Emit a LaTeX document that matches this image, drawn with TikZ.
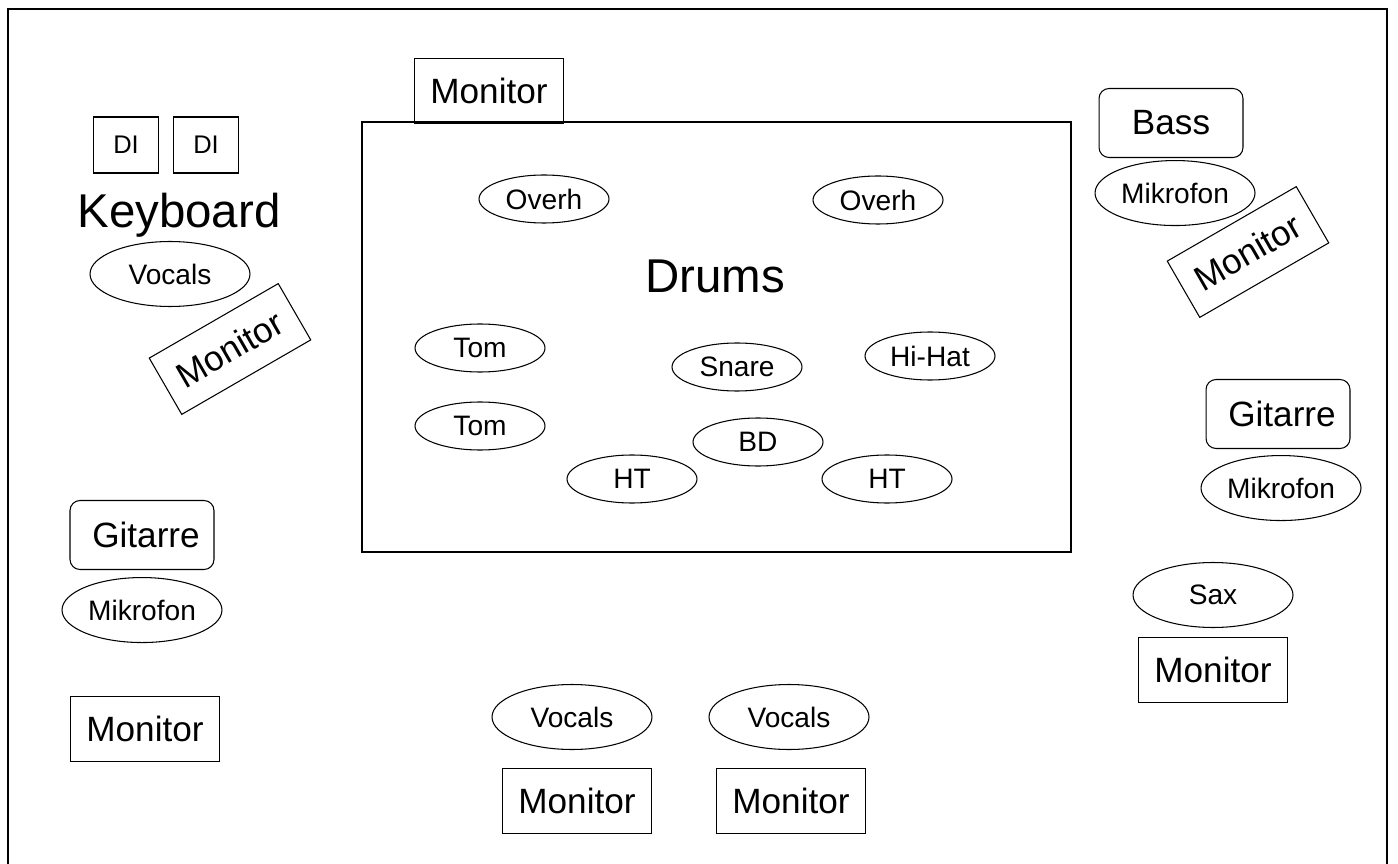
\documentclass[tikz,border=0pt]{standalone}
\usepackage{fontspec}
\setmainfont{Liberation Sans}
\usetikzlibrary{positioning, shapes.geometric}

\begin{document}
\begin{tikzpicture}[
    x=0.02cm, y=-0.02cm,
    line width=0.6pt,
    monitor/.style={draw, rectangle, inner sep=0pt, minimum width=2.98cm, minimum height=1.3cm, font=\fontsize{20}{24}\selectfont},
    dibox/.style={draw, rectangle, inner sep=0pt, minimum width=1.3cm, minimum height=1.12cm, font=\fontsize{14.5}{17}\selectfont},
    amp/.style={draw, rectangle, rounded corners=0.2cm, inner sep=0pt, minimum width=2.88cm, minimum height=1.38cm, font=\fontsize{20}{24}\selectfont},
    mic/.style={draw, ellipse, inner sep=0pt, minimum width=3.2cm, minimum height=1.3cm, font=\fontsize{16}{19}\selectfont},
    drummic/.style={draw, ellipse, inner sep=0pt, minimum width=2.6cm, minimum height=0.96cm, font=\fontsize{16}{19}\selectfont},
    bigtext/.style={inner sep=0pt, anchor=base, font=\fontsize{27}{32}\selectfont}
]
    \useasboundingbox (0,0) rectangle (1398,864);

    % STAGE
    \draw[line width=1.1pt] (8,864) -- (8,9) -- (1387,9) -- (1387,864);

    % DRUMS
    \node[draw, line width=1.1pt, inner sep=0pt, minimum width=14.18cm, minimum height=8.6cm] (drums) at (716.5,337) {};
    \node[bigtext] (drums_label) at (715,293) {Drums};
    \node[monitor] (mon_drums) at (489,91) {Monitor};

    \node[drummic] (overh_l) at (544,199) {Overh};
    \node[drummic] (overh_r) at (878,200) {Overh};
    \node[drummic] (tom_a) at (480,348) {Tom};
    \node[drummic] (tom_b) at (480,426) {Tom};
    \node[drummic] (snare) at (737,367) {Snare};
    \node[drummic] (hihat) at (930,356) {Hi-Hat};
    \node[drummic] (bd) at (758,442) {BD};
    \node[drummic] (ht_l) at (632,479) {HT};
    \node[drummic] (ht_r) at (887,479) {HT};

    % KEYBOARD
    \node[dibox] (di_a) at (126,145) {DI};
    \node[dibox] (di_b) at (206,145) {DI};
    \node[bigtext] (keys) at (179,228) {Keyboard};
    \node[mic] (vocals_keys) at (170,274) {Vocals};
    \node[monitor, rotate=30] (mon_keys) at (230,349) {Monitor};

    % BASS
    \node[amp] (bass) at (1171,123) {Bass};
    \node[mic, below=0.04cm of bass, xshift=0.08cm] (mic_bass) {Mikrofon};
    \node[monitor, rotate=30] (mon_bass) at (1248,252) {Monitor};

    % GUITAR RIGHT
    \node[amp] (git_r) at (1278,414) {\hspace{0.16cm}Gitarre};
    \node[mic, below=0.12cm of git_r, xshift=0.06cm] (mic_git_r) {Mikrofon};

    % SAX
    \node[mic] (sax) at (1213,595) {Sax};
    \node[monitor, below=0.18cm of sax] (mon_sax) {Monitor};

    % GUITAR LEFT
    \node[amp] (git_l) at (142,535) {\hspace{0.16cm}Gitarre};
    \node[mic, below=0.14cm of git_l] (mic_git_l) {Mikrofon};
    \node[monitor] (mon_git_l) at (145,729) {Monitor};

    % FRONT VOCALS
    \node[mic] (vocals_a) at (572,717) {Vocals};
    \node[mic] (vocals_b) at (789,717) {Vocals};
    \node[monitor, below=0.36cm of vocals_a, xshift=0.1cm] (mon_a) {Monitor};
    \node[monitor, below=0.36cm of vocals_b, xshift=0.04cm] (mon_b) {Monitor};

\end{tikzpicture}
\end{document}
